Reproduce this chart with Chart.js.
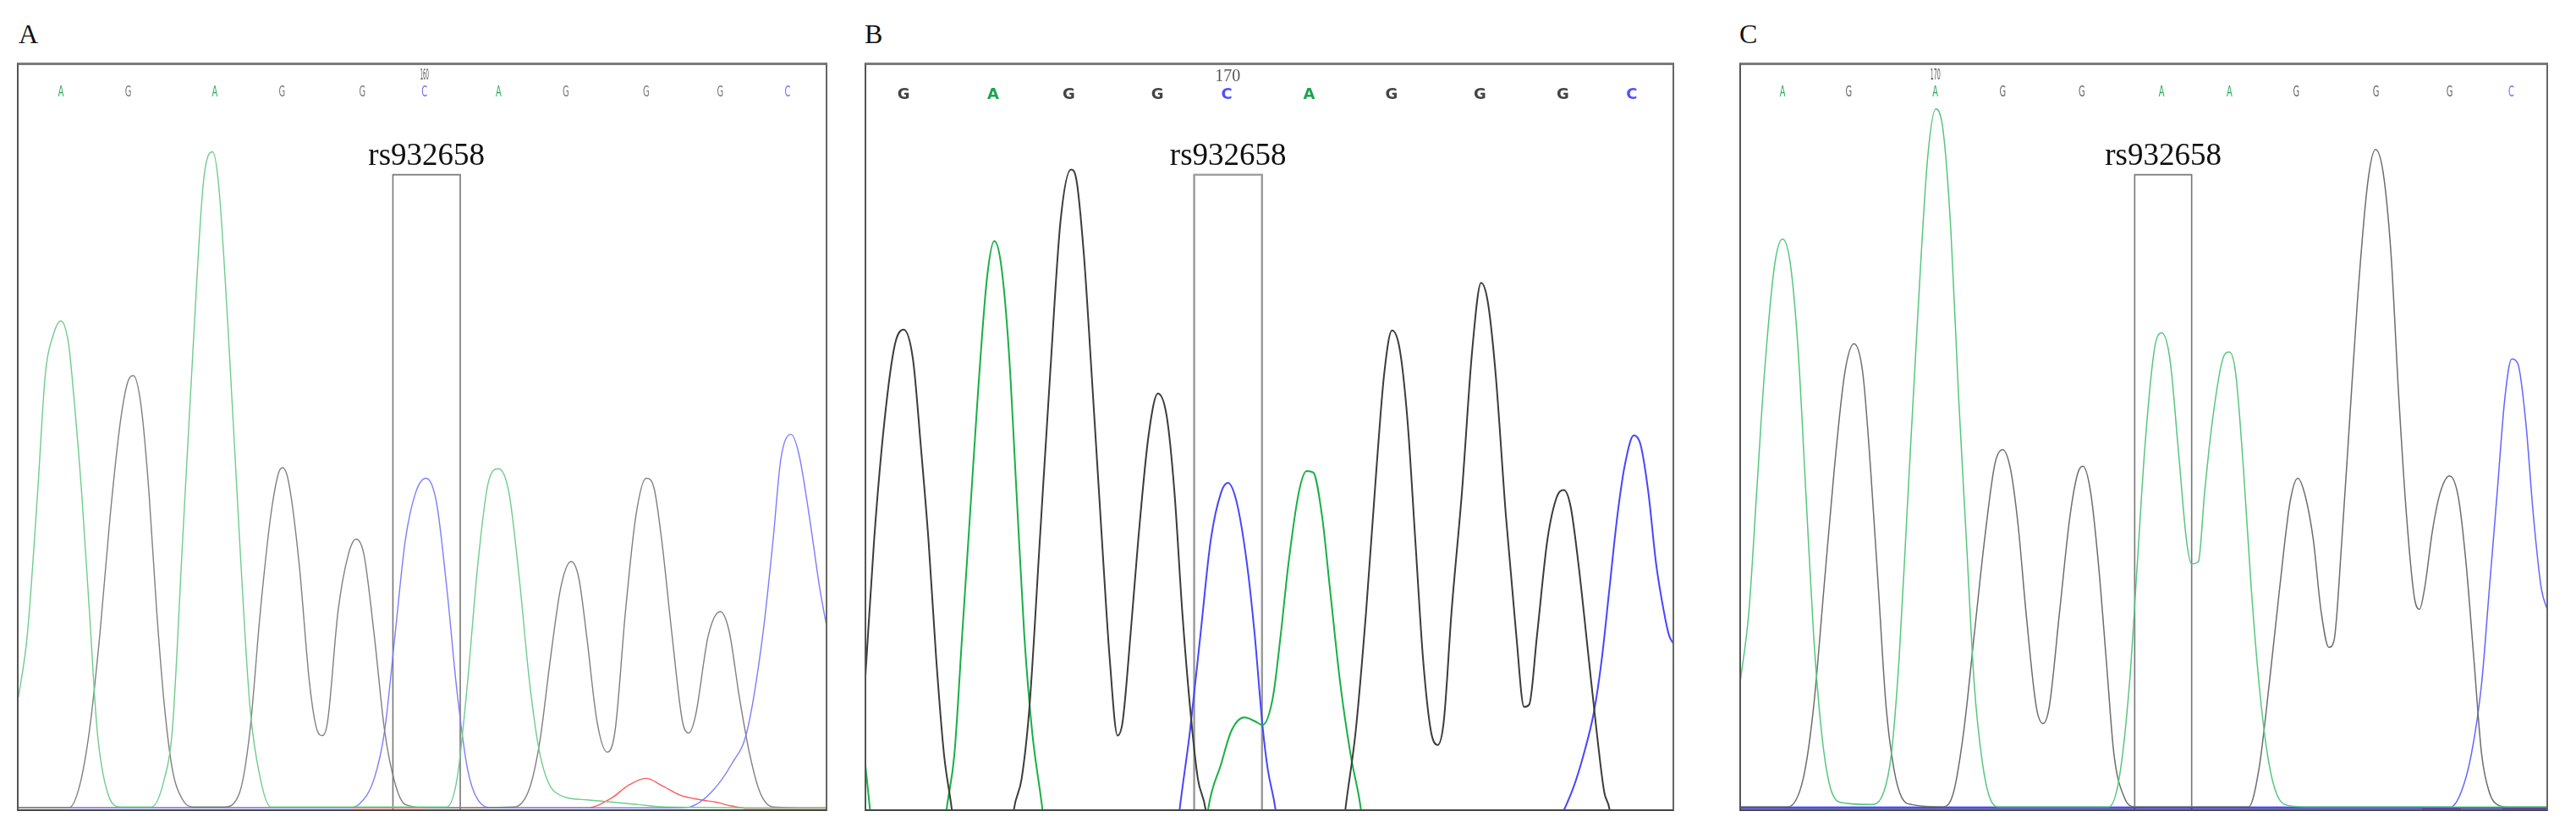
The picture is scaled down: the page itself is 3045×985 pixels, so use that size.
<!DOCTYPE html>
<html>
<head>
<meta charset="utf-8">
<script src="https://cdn.jsdelivr.net/npm/chart.js@4.4.0/dist/chart.umd.min.js"></script>
<style>
  body { margin: 0; background: #fff; width: 3045px; height: 985px; position: relative; overflow: hidden; }
  .panel { position: absolute; top: 74px; height: 880px; border-top: 3px solid #7a7a7a; border-left: 2px solid #555; border-right: 2px solid #666; border-bottom: 2px solid #444; }
  .panel canvas { display: block; }
  .tag { position: absolute; top: 22px; font: 32px "Liberation Serif", serif; color: #111; line-height: normal; }
</style>
</head>
<body>
<div class="tag" style="left:22px">A</div>
<div class="tag" style="left:1022px">B</div>
<div class="tag" style="left:2056px">C</div>
<div class="panel" style="left:20px;width:954px"><canvas id="chartA" width="954" height="880"></canvas></div>
<div class="panel" style="left:1022px;width:953px"><canvas id="chartB" width="953" height="880"></canvas></div>
<div class="panel" style="left:2056px;width:952px"><canvas id="chartC" width="952" height="880"></canvas></div>
<script>
// ---- data: [scan, intensity] ----
var snpName = 'rs932658';
var boxTop = 1332;

// panel A
var basesA = ['A','G','A','G','G','C','A','G','G','G','C'];
var basePosA = [85, 215, 382, 512, 667, 787, 930, 1060, 1215, 1358, 1488];
var numberA = ['160', 787];
var boxA = [726, 856];
var aTraceA = [[3,235],[20,365],[40,665],[55,915],[70,995],[85,1025],[100,975],[110,865],[125,665],[140,415],[155,165],[175,35],[200,5],[260,5],[285,65],[300,165],[320,565],[340,965],[360,1315],[378,1380],[390,1305],[410,965],[430,565],[450,215],[470,65],[490,5],[830,5],[850,65],[870,265],[890,515],[910,685],[930,715],[950,665],[970,485],[990,265],[1010,115],[1040,35],[1100,20],[1200,10],[1250,5],[1565,3]];
var gTraceA = [[3,3],[100,3],[120,45],[140,165],[160,365],[180,615],[200,815],[215,900],[225,910],[240,845],[255,665],[270,415],[285,215],[300,85],[320,20],[340,5],[400,5],[430,35],[450,165],[470,415],[490,615],[505,705],[513,717],[525,685],[545,515],[565,265],[580,165],[590,155],[600,185],[620,415],[640,535],[655,567],[670,535],[690,365],[710,165],[730,55],[750,10],[800,3],[960,5],[990,45],[1010,145],[1030,315],[1050,465],[1070,520],[1085,485],[1100,365],[1120,185],[1140,120],[1155,165],[1175,415],[1195,615],[1215,695],[1230,675],[1245,565],[1265,365],[1285,185],[1297,160],[1310,195],[1335,365],[1358,415],[1375,375],[1395,235],[1415,115],[1435,35],[1460,5],[1565,3]];
var cTraceA = [[3,3],[640,3],[660,10],[690,65],[710,165],[730,365],[750,565],[770,665],[790,695],[810,645],[830,465],[850,245],[870,85],[890,20],[920,3],[1280,3],[1300,5],[1340,35],[1380,95],[1410,165],[1440,365],[1460,565],[1475,735],[1495,787],[1510,745],[1530,615],[1550,465],[1565,375]];
var tTraceA = [[3,3],[1100,3],[1150,25],[1180,50],[1215,65],[1245,50],[1280,30],[1320,20],[1350,15],[1380,7],[1410,2],[1565,2]];

// panel B
var basesB = ['G','A','G','G','C','A','G','G','G','C'];
var basePosB = [77, 250, 396, 567, 701, 860, 1019, 1190, 1350, 1483];
var numberB = ['170', 703];
var boxB = [638, 769];
var gTraceB = [[3,275],[20,565],[40,815],[60,975],[77,1007],[95,945],[110,765],[125,565],[140,315],[155,115],[170,0],[185,-150],[275,-150],[290,0],[305,65],[320,215],[340,565],[360,915],[380,1235],[400,1343],[410,1325],[425,1165],[440,915],[460,565],[475,315],[490,155],[500,185],[515,365],[530,565],[550,785],[568,873],[585,825],[600,665],[615,415],[630,215],[645,65],[660,0],[675,-150],[915,-150],[930,0],[950,165],[970,415],[990,715],[1005,915],[1020,1005],[1035,965],[1050,815],[1065,565],[1080,315],[1095,165],[1108,135],[1120,185],[1135,415],[1155,665],[1175,965],[1192,1105],[1205,1065],[1220,915],[1240,615],[1260,365],[1275,215],[1285,220],[1300,365],[1320,565],[1338,655],[1352,670],[1365,635],[1380,515],[1400,315],[1415,165],[1430,35],[1440,0],[1455,-150],[1565,-150]];
var aTraceB = [[3,95],[12,0],[25,-150],[145,-150],[160,0],[175,115],[190,365],[205,615],[220,865],[238,1115],[252,1193],[265,1145],[280,965],[295,665],[310,365],[325,165],[345,0],[360,-150],[650,-150],[665,0],[690,95],[710,165],[735,193],[755,185],[770,177],[790,235],[805,365],[820,515],[840,665],[855,710],[868,707],[885,615],[900,465],[920,265],[940,115],[960,0],[975,-150],[1565,-150]];
var cTraceB = [[3,-150],[595,-150],[610,0],[630,165],[650,365],[670,565],[690,665],[703,685],[720,645],[740,515],[755,365],[770,175],[780,85],[795,0],[810,-150],[1290,-150],[1340,-30],[1370,45],[1390,115],[1410,205],[1425,315],[1440,465],[1455,615],[1470,725],[1487,785],[1500,765],[1515,665],[1530,515],[1545,415],[1555,365],[1565,345]];

// panel C
var basesC = ['A','G','A','G','G','A','A','G','G','G','C'];
var basePosC = [90, 218, 385, 515, 668, 822, 953, 1082, 1236, 1378, 1497];
var numberC = ['170', 385];
var boxC = [770, 880];
var aTraceC = [[8,265],[25,415],[40,665],[55,915],[75,1145],[90,1197],[105,1145],[120,965],[135,665],[150,365],[165,165],[180,55],[200,15],[260,10],[285,35],[300,115],[315,315],[330,615],[350,1015],[370,1365],[386,1470],[400,1425],[415,1215],[430,865],[445,565],[460,265],[475,105],[490,25],[510,5],[720,5],[740,65],[760,265],[775,515],[790,765],[808,965],[822,1000],[838,945],[855,745],[870,565],[880,515],[893,520],[905,665],[920,815],[940,945],[953,960],[965,915],[980,715],[995,465],[1010,265],[1025,125],[1040,45],[1060,10],[1100,5],[1568,5]];
var gTraceC = [[8,5],[100,5],[130,65],[150,215],[170,465],[190,715],[210,915],[228,977],[245,915],[260,715],[275,465],[290,215],[305,85],[320,25],[340,10],[400,5],[420,35],[440,165],[460,365],[480,565],[500,725],[515,755],[530,715],[545,595],[560,415],[580,215],[593,180],[605,215],[625,415],[645,615],[660,705],[670,720],[685,665],[700,515],[715,315],[730,115],[750,25],[770,5],[990,5],[1010,85],[1030,265],[1050,465],[1070,645],[1085,695],[1100,655],[1115,565],[1130,415],[1145,340],[1155,355],[1170,565],[1185,815],[1200,1065],[1220,1315],[1235,1385],[1250,1335],[1265,1165],[1280,865],[1295,615],[1310,445],[1320,420],[1330,465],[1345,585],[1360,665],[1378,700],[1395,655],[1410,515],[1425,315],[1440,115],[1455,35],[1470,10],[1490,5],[1568,5]];
var cTraceC = [[8,5],[1380,5],[1400,35],[1420,115],[1440,265],[1455,465],[1470,665],[1485,865],[1498,945],[1510,935],[1525,815],[1540,615],[1555,465],[1568,415]];
var baseLineC = [[8,3],[1568,3]];
var redLineC = [[1325,3],[1400,3],[1401,null],[1480,3],[1568,3]];

// ---- drawing ----
var seqLabels = {
  id: 'seqLabels',
  afterDatasetsDraw: function(chart, args, o) {
    var ctx = chart.ctx, x = chart.scales.x, y = chart.scales.y;
    ctx.save();
    ctx.textAlign = 'center';
    ctx.textBaseline = 'middle';
    o.bases.forEach(function(b, i) {
      ctx.save();
      ctx.translate(x.getPixelForValue(o.positions[i]), o.baseY);
      ctx.scale(o.squeeze, 1);
      ctx.font = o.baseFont;
      ctx.fillStyle = o.baseColors[b];
      ctx.fillText(b, 0, 0);
      ctx.restore();
    });
    ctx.save();
    ctx.translate(x.getPixelForValue(o.number[1]), o.numberY);
    ctx.scale(o.numberSqueeze, 1);
    ctx.font = o.numberFont;
    ctx.fillStyle = '#555';
    ctx.fillText(o.number[0], 0, 0);
    ctx.restore();
    // SNP label over its box
    var cx = (x.getPixelForValue(o.box[0]) + x.getPixelForValue(o.box[1])) / 2;
    ctx.textBaseline = 'alphabetic';
    ctx.font = '37px "Liberation Serif", serif';
    ctx.fillStyle = '#111';
    ctx.fillText(snpName, cx, y.getPixelForValue(boxTop) - 12);
    ctx.restore();
  }
};

function trace(points, color, width) {
  return {
    data: points.map(function(p) { return {x: p[0], y: p[1]}; }),
    borderColor: color,
    borderWidth: width,
    pointRadius: 0,
    fill: false,
    tension: 0.4,
    cubicInterpolationMode: 'monotone'
  };
}

function boxSet(box, color, width) {
  return {
    data: [{x: box[0], y: -200}, {x: box[0], y: boxTop}, {x: box[1], y: boxTop}, {x: box[1], y: -200}],
    borderColor: color,
    borderWidth: width,
    pointRadius: 0,
    fill: false,
    tension: 0
  };
}

function panel(id, datasets, xMin, xMax, labels) {
  return new Chart(document.getElementById(id), {
    type: 'line',
    data: { datasets: datasets },
    options: {
      responsive: false,
      devicePixelRatio: 1,
      animation: false,
      events: [],
      layout: { padding: 0 },
      scales: {
        x: { type: 'linear', min: xMin, max: xMax, display: false },
        y: { type: 'linear', min: 0, max: 1562, display: false }
      },
      plugins: { legend: { display: false }, tooltip: { enabled: false }, seqLabels: labels }
    },
    plugins: [seqLabels]
  });
}

var smallFont = '18px "DejaVu Sans", sans-serif';

panel('chartA', [
  trace(aTraceA, 'rgb(110,205,140)', 1.4),
  trace(gTraceA, 'rgb(128,128,128)', 1.4),
  trace(cTraceA, 'rgb(125,125,255)', 1.4),
  trace(tTraceA, 'rgb(255,90,90)', 1.4),
  boxSet(boxA, '#777', 1.6)
], 3.3, 1561.6, {
  bases: basesA, positions: basePosA, number: numberA, box: boxA,
  baseY: 32, baseFont: smallFont, squeeze: 0.55,
  numberY: 12, numberFont: '18px "DejaVu Sans", sans-serif', numberSqueeze: 0.3,
  baseColors: { A: '#2aab5c', G: '#777', C: '#6a6aff', T: '#f44' }
});

panel('chartB', [
  trace(gTraceB, 'rgb(60,60,60)', 2),
  trace(aTraceB, 'rgb(25,175,70)', 2),
  trace(cTraceB, 'rgb(70,70,255)', 2),
  boxSet(boxB, '#999', 2.4)
], 4.9, 1561.6, {
  bases: basesB, positions: basePosB, number: numberB, box: boxB,
  baseY: 35, baseFont: 'bold 18px "DejaVu Sans", sans-serif', squeeze: 1,
  numberY: 14, numberFont: '20px "Liberation Serif", serif', numberSqueeze: 1,
  baseColors: { A: '#1ea350', G: '#444', C: '#5050ff', T: '#f33' }
});

panel('chartC', [
  trace(aTraceC, 'rgb(85,200,125)', 1.5),
  trace(gTraceC, 'rgb(110,110,110)', 1.5),
  trace(cTraceC, 'rgb(100,100,255)', 1.5),
  trace(baseLineC, 'rgb(45,45,170)', 2.5),
  trace(redLineC, 'rgb(215,50,50)', 2.5),
  boxSet(boxC, '#777', 1.6)
], 9.8, 1565, {
  bases: basesC, positions: basePosC, number: numberC, box: boxC,
  baseY: 32, baseFont: smallFont, squeeze: 0.55,
  numberY: 12, numberFont: '18px "DejaVu Sans", sans-serif', numberSqueeze: 0.35,
  baseColors: { A: '#2aab5c', G: '#666', C: '#6a6aff', T: '#f44' }
});
</script>
</body>
</html>
